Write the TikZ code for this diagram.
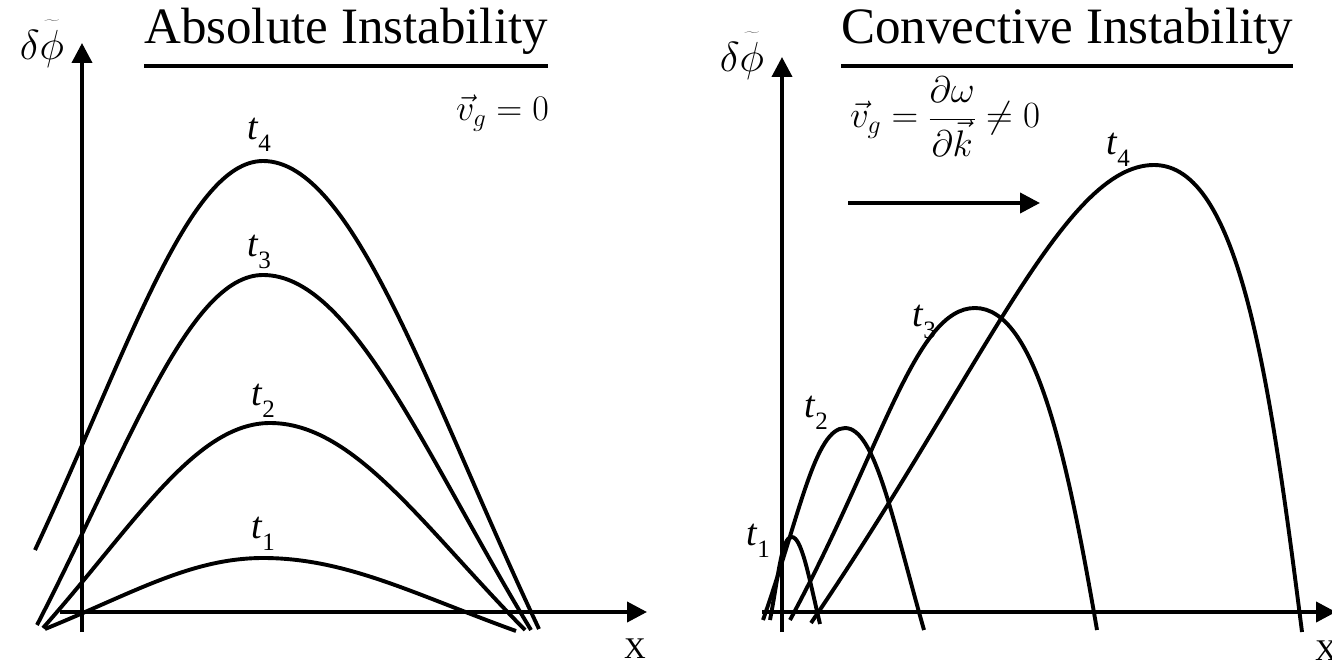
\RequirePackage{fix-cm}
\documentclass[tikz,border=0pt]{standalone}
\usepackage{fontspec}
\setmainfont{Liberation Serif}
\usetikzlibrary{arrows.meta}
\newcommand\tlab[1]{\textit{t}\raisebox{-0.32em}{\fontsize{25}{25}\selectfont #1}}
\newcommand\dphi{$\delta\widetilde{\phi\rule{0pt}{0.86em}}$}
\newcommand\archcurve[9]{%
  \pgfmathsetmacro\qLa{#6+#1*(#4-#6)}%
  \pgfmathsetmacro\qLb{#6+#2*(#4-#6)}%
  \pgfmathsetmacro\qLc{#7+#3*(#5-#7)}%
  \pgfmathsetmacro\qRa{#6+#1*(#8-#6)}%
  \pgfmathsetmacro\qRb{#6+#2*(#8-#6)}%
  \pgfmathsetmacro\qRc{#7+#3*(#9-#7)}%
  \draw[curvestroke] (#4,#5) .. controls (\qLb,\qLc) and (\qLa,#7) .. (#6,#7)
     .. controls (\qRa,#7) and (\qRb,\qRc) .. (#8,#9);%
}
\begin{document}
\begin{tikzpicture}[x=1pt,y=-1pt,
  axisline/.style={line width=3.9pt,-{Triangle[length=20pt,width=20pt]}},
  curvestroke/.style={line width=3.9pt},
  ttl/.style={inner sep=0pt,anchor=base west,font=\fontsize{51}{60}\selectfont},
  uline/.style={line width=4pt},
  tl/.style={inner sep=0pt,font=\fontsize{38}{42}\selectfont},
  fml/.style={inner sep=0pt,anchor=base west,font=\fontsize{36}{40}\selectfont},
  fmlb/.style={inner sep=0pt,anchor=base west,font=\fontsize{37}{42}\selectfont},
  sym/.style={inner sep=0pt,font=\fontsize{42}{48}\selectfont},
  xl/.style={inner sep=0pt,font=\fontsize{30}{34}\selectfont}]
\useasboundingbox (0,0) rectangle (1332,663);
\clip (0,0) rectangle (1332,663);
\fill[white] (0,0) rectangle (1332,663);

% ---------- left panel ----------
\coordinate (LYb) at (82,632);
\coordinate (LYt) at (82,43);
\coordinate (LXa) at (60,612);
\coordinate (LXb) at (647,612);
\draw[axisline] (LYb) -- (LYt);
\draw[axisline] (LXa) -- (LXb);
\node[sym] (ldp) at (42,44) {\dphi};
\node[xl] (lxx) at (635,649) {X};
\node[ttl] (ltitle) at (144,44) {Absolute Instability};
\draw[uline] ([yshift=-22pt]ltitle.base west) -- ([yshift=-22pt]ltitle.base east);
\node[fml] (lvg) at (456,121) {$\vec{v}_g = 0$};

\archcurve{0.33}{0.6}{0.5}{35}{550}{263}{161}{539}{629}
\archcurve{0.33}{0.6}{0.5}{37}{625}{263}{275}{531}{630}
\archcurve{0.33}{0.6}{0.5}{43}{628}{270}{423}{525}{630}
\archcurve{0.33}{0.6}{0.5}{45}{629}{263}{558}{516}{631}
\node[tl] (lt4) at (259,135) {\tlab{4}};
\node[tl] (lt3) at (259,252) {\tlab{3}};
\node[tl] (lt2) at (263,401) {\tlab{2}};
\node[tl] (lt1) at (263,534) {\tlab{1}};

% ---------- right panel ----------
\coordinate (RYb) at (782,632);
\coordinate (RYt) at (782,57);
\coordinate (RXa) at (762,612);
\coordinate (RXb) at (1336,612);
\draw[axisline] (RYb) -- (RYt);
\draw[axisline] (RXa) -- (RXb);
\node[sym] (rdp) at (742,56) {\dphi};
\node[xl] (rxx) at (1326,651) {X};
\node[ttl] (rtitle) at (841,44) {Convective Instability};
\draw[uline] ([yshift=-22pt]rtitle.base west) -- ([yshift=-22pt]rtitle.base east);
\node[fmlb] (rvg) at (850,128) {$\vec{v}_g = \displaystyle\frac{\partial\omega}{\partial\vec{k}} \neq 0$};
\coordinate (VA0) at (848,203);
\coordinate (VA1) at (1040,203);
\draw[axisline] (VA0) -- (VA1);

% t1
\draw[curvestroke] (770,620) .. controls (778.7,574.4) and (781.7,537) .. (791.7,537)
  .. controls (801.7,537) and (808.7,576.2) .. (820,624);
% t2
\draw[curvestroke] (763,620) .. controls (799.9,514.4) and (815,428) .. (845,428)
  .. controls (875,428) and (892.4,518.9) .. (924,630);
% t3
\draw[curvestroke] (790,620) .. controls (882.5,448.4) and (915,308) .. (975,308)
  .. controls (1035,308) and (1066.5,453) .. (1097,630);
% t4
\draw[curvestroke] (811,623) .. controls (982.5,371) and (1064,165) .. (1154,165)
  .. controls (1239,165) and (1269.4,375) .. (1302,632);
\node[tl] (rt1) at (758,541) {\tlab{1}};
\node[tl] (rt2) at (816,413) {\tlab{2}};
\node[tl] (rt3) at (924,322) {\tlab{3}};
\node[tl] (rt4) at (1118,150) {\tlab{4}};
\end{tikzpicture}
\end{document}
